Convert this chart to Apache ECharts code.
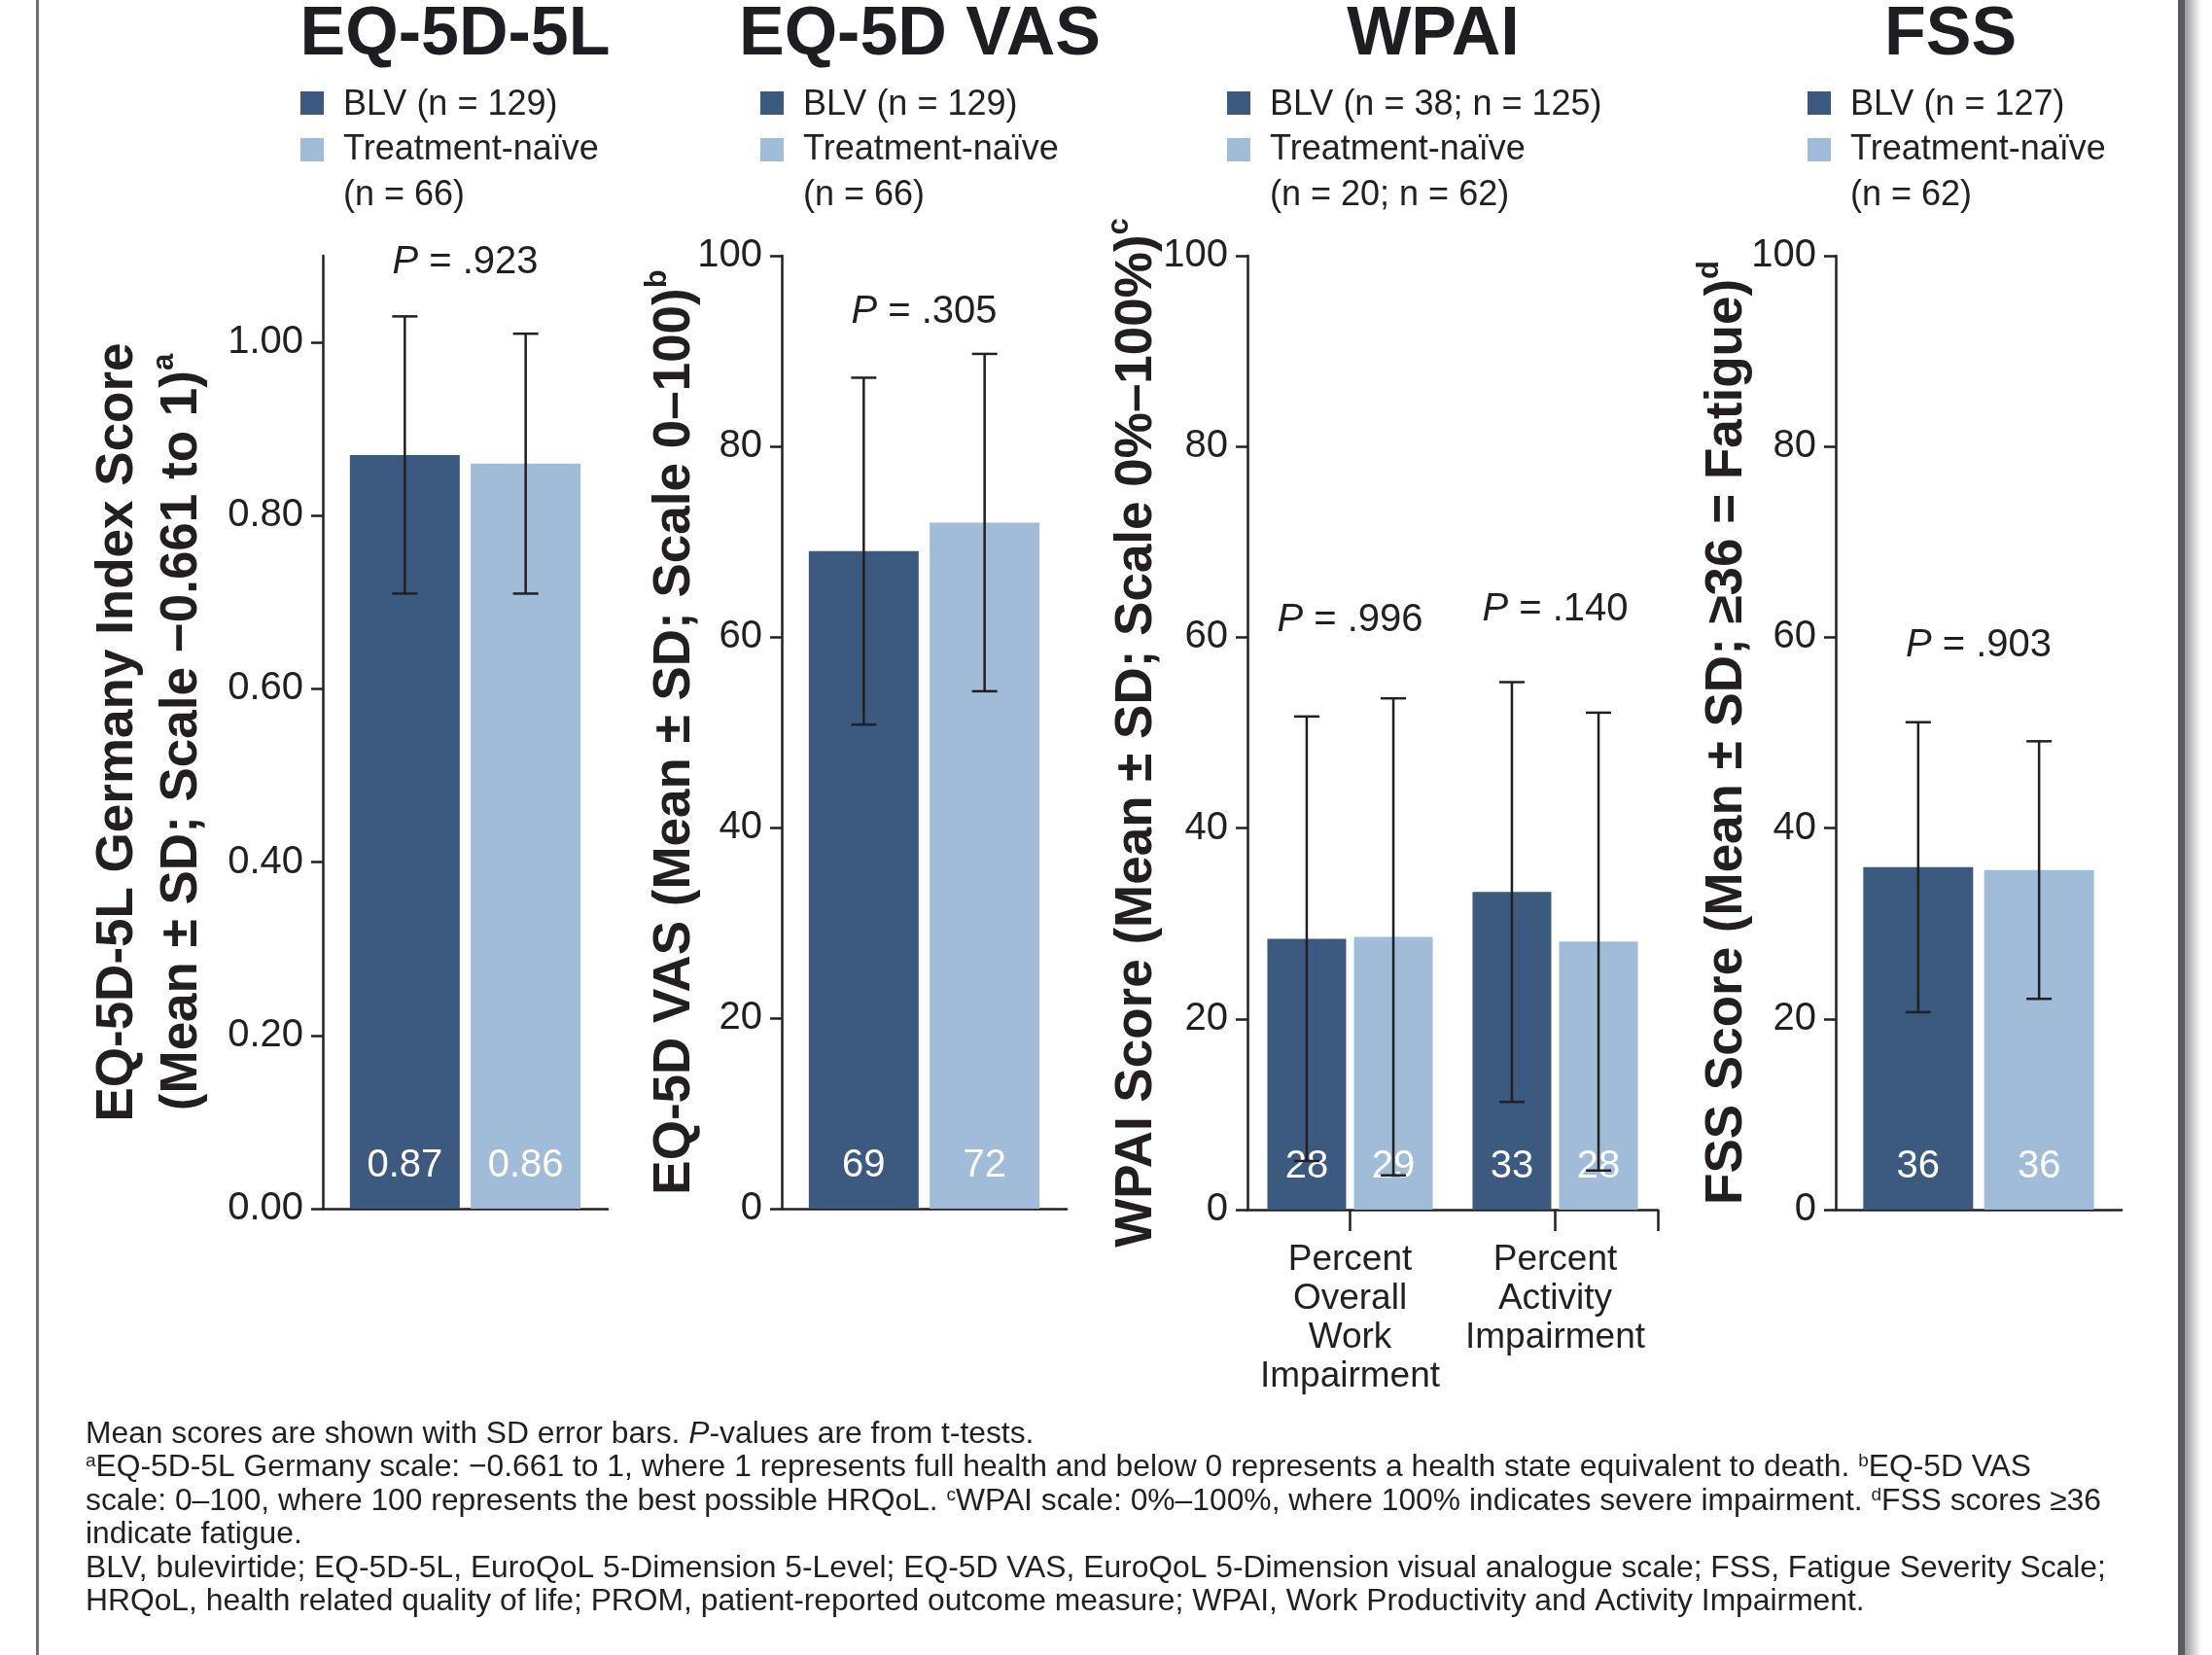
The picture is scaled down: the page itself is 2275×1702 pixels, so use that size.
<!DOCTYPE html>
<html>
<head>
<meta charset="utf-8">
<script src="https://cdn.jsdelivr.net/npm/echarts@6/dist/echarts.min.js"></script>
<style>
  html, body { margin: 0; padding: 0; background: #ffffff; }
  #chart { width: 2275px; height: 1702px; }
</style>
</head>
<body>
<div id="chart"></div>
<script>
// ---- data ----
const panelTitles = ['EQ-5D-5L', 'EQ-5D VAS', 'WPAI', 'FSS'];
const legendBlv = ['BLV (n = 129)', 'BLV (n = 129)', 'BLV (n = 38; n = 125)', 'BLV (n = 127)'];
const legendNaive = ['Treatment-naïve\n(n = 66)', 'Treatment-naïve\n(n = 66)', 'Treatment-naïve\n(n = 20; n = 62)', 'Treatment-naïve\n(n = 62)'];

const eq5dCategories = ['EQ-5D-5L'];
const vasCategories = ['EQ-5D VAS'];
const wpaiCategories = ['Percent\nOverall\nWork\nImpairment', 'Percent\nActivity\nImpairment'];
const fssCategories = ['FSS'];

const eq5dBlvMean = [0.87];
const eq5dBlvSd = [0.16];
const eq5dNaiveMean = [0.86];
const eq5dNaiveSd = [0.15];

const vasBlvMean = [69];
const vasBlvSd = [18.2];
const vasNaiveMean = [72];
const vasNaiveSd = [17.7];

const wpaiBlvMean = [28.4, 33.3];
const wpaiBlvSd = [23.3, 22.0];
const wpaiNaiveMean = [28.6, 28.1];
const wpaiNaiveSd = [25.0, 24.0];

const fssBlvMean = [35.9];
const fssBlvSd = [15.2];
const fssNaiveMean = [35.6];
const fssNaiveSd = [13.5];

const eq5dPValues = ['.923'];
const vasPValues = ['.305'];
const wpaiPValues = ['.996', '.140'];
const fssPValues = ['.903'];
// height (in axis units) at which each P-value is written
const eq5dPY = [1.092];
const vasPY = [94.1];
const wpaiPY = [61.8, 62.9];
const fssPY = [59.1];

const eq5dTicks = [0, 0.2, 0.4, 0.6, 0.8, 1.0];
const scoreTicks = [0, 20, 40, 60, 80, 100];

const axisNames = [
  'EQ-5D-5L Germany Index Score\n(Mean ± SD; Scale −0.661 to 1){sup|a}',
  'EQ-5D VAS (Mean ± SD; Scale 0–100){sup|b}',
  'WPAI Score (Mean ± SD; Scale 0%–100%){sup|c}',
  'FSS Score (Mean ± SD; ≥36 = Fatigue){sup|d}'
];

const footnotes = [
  'Mean scores are shown with SD error bars. {it|P}-values are from t-tests.',
  '{sup|a}EQ-5D-5L Germany scale: −0.661 to 1, where 1 represents full health and below 0 represents a health state equivalent to death. {sup|b}EQ-5D VAS',
  'scale: 0–100, where 100 represents the best possible HRQoL. {sup|c}WPAI scale: 0%–100%, where 100% indicates severe impairment. {sup|d}FSS scores ≥36',
  'indicate fatigue.',
  'BLV, bulevirtide; EQ-5D-5L, EuroQoL 5-Dimension 5-Level; EQ-5D VAS, EuroQoL 5-Dimension visual analogue scale; FSS, Fatigue Severity Scale;',
  'HRQoL, health related quality of life; PROM, patient-reported outcome measure; WPAI, Work Productivity and Activity Impairment.'
];

// ---- styling ----
const INK = '#231f20';
const BLV_COLOR = '#3c5a7f';
const NAIVE_COLOR = '#a0bcd9';
const FONT = '"Liberation Sans", Arial, Helvetica, sans-serif';

const panels = [
  { grid: { left: 332, top: 263, width: 293, height: 980 }, cats: eq5dCategories,
    blv: eq5dBlvMean, blvSd: eq5dBlvSd, naive: eq5dNaiveMean, naiveSd: eq5dNaiveSd,
    pv: eq5dPValues, pY: eq5dPY, max: 1.1, interval: 0.2, ticks: eq5dTicks, decimals: 2,
    barWidth: 113, nameGap: 112 },
  { grid: { left: 804, top: 263, width: 293, height: 980 }, cats: vasCategories,
    blv: vasBlvMean, blvSd: vasBlvSd, naive: vasNaiveMean, naiveSd: vasNaiveSd,
    pv: vasPValues, pY: vasPY, max: 100, interval: 20, ticks: scoreTicks, decimals: 0,
    barWidth: 113, nameGap: 77 },
  { grid: { left: 1283, top: 263, width: 422, height: 981 }, cats: wpaiCategories,
    blv: wpaiBlvMean, blvSd: wpaiBlvSd, naive: wpaiNaiveMean, naiveSd: wpaiNaiveSd,
    pv: wpaiPValues, pY: wpaiPY, max: 100, interval: 20, ticks: scoreTicks, decimals: 0,
    barWidth: 81, nameGap: 81, showCats: true },
  { grid: { left: 1888, top: 263, width: 294, height: 981 }, cats: fssCategories,
    blv: fssBlvMean, blvSd: fssBlvSd, naive: fssNaiveMean, naiveSd: fssNaiveSd,
    pv: fssPValues, pY: fssPY, max: 100, interval: 20, ticks: scoreTicks, decimals: 0,
    barWidth: 113, nameGap: 79 }
];
const BAR_GAP = 0.1;

function errorBarRenderer(offset) {
  return function (params, api) {
    const cat = api.value(0), m = api.value(1), s = api.value(2);
    const top = api.coord([cat, m + s]);
    const bot = api.coord([cat, m - s]);
    const x = top[0] + offset;
    const half = 13;
    const st = { stroke: INK, lineWidth: 2.5 };
    return {
      type: 'group',
      children: [
        { type: 'line', shape: { x1: x, y1: top[1], x2: x, y2: bot[1] }, style: st },
        { type: 'line', shape: { x1: x - half, y1: top[1], x2: x + half, y2: top[1] }, style: st },
        { type: 'line', shape: { x1: x - half, y1: bot[1], x2: x + half, y2: bot[1] }, style: st }
      ]
    };
  };
}

const grids = [], xAxes = [], yAxes = [], series = [];
const axisLineStyle = { color: INK, width: 2.5 };

panels.forEach((p, i) => {
  grids.push(Object.assign({ outerBoundsMode: 'none', containLabel: false }, p.grid));
  xAxes.push({
    type: 'category', gridIndex: i, data: p.cats, position: 'bottom',
    axisLine: { show: true, onZero: false, lineStyle: axisLineStyle },
    axisTick: { show: !!p.showCats, alignWithLabel: true, length: 22, interval: 0, lineStyle: axisLineStyle },
    axisLabel: { show: !!p.showCats, interval: 0, fontFamily: FONT, fontSize: 37, lineHeight: 40,
                 color: INK, margin: 32 },
    splitLine: { show: false }
  });
  yAxes.push({
    type: 'value', gridIndex: i, min: 0, max: p.max, interval: p.interval,
    axisLine: { show: true, lineStyle: axisLineStyle },
    axisTick: { show: true, length: 12, lineStyle: axisLineStyle, customValues: p.ticks },
    axisLabel: { fontFamily: FONT, fontSize: 40, color: INK, margin: 20, customValues: p.ticks,
                 formatter: v => Number(v).toFixed(p.decimals) },
    splitLine: { show: false },
    name: axisNames[i], nameLocation: 'middle', nameRotate: 90, nameGap: p.nameGap,
    nameMoveOverlap: false,
    nameTextStyle: {
      fontFamily: FONT, fontSize: 53, fontWeight: 'bold', color: INK, lineHeight: 66, align: 'center',
      rich: { sup: { fontFamily: FONT, fontSize: 31, fontWeight: 'bold', color: INK, verticalAlign: 'top' } }
    }
  });

  const valueLabel = {
    show: true, position: 'insideBottom', distance: 24, color: '#ffffff',
    fontFamily: FONT, fontSize: 40,
    formatter: d => p.decimals ? Number(d.value).toFixed(p.decimals) : String(Math.round(d.value))
  };
  series.push({
    name: legendBlv[i], type: 'bar', xAxisIndex: i, yAxisIndex: i, data: p.blv,
    barWidth: p.barWidth, barGap: (BAR_GAP * 100) + '%', itemStyle: { color: BLV_COLOR },
    label: valueLabel, silent: true, animation: false, z: 2
  });
  series.push({
    name: legendNaive[i], type: 'bar', xAxisIndex: i, yAxisIndex: i, data: p.naive,
    barWidth: p.barWidth, barGap: (BAR_GAP * 100) + '%', itemStyle: { color: NAIVE_COLOR },
    label: valueLabel, silent: true, animation: false, z: 2
  });
  const off = p.barWidth * (1 + BAR_GAP) / 2;
  series.push({
    type: 'custom', xAxisIndex: i, yAxisIndex: i, renderItem: errorBarRenderer(-off),
    data: p.blv.map((m, k) => [k, m, p.blvSd[k]]), encode: { x: 0, y: 1 },
    silent: true, animation: false, z: 5
  });
  series.push({
    type: 'custom', xAxisIndex: i, yAxisIndex: i, renderItem: errorBarRenderer(off),
    data: p.naive.map((m, k) => [k, m, p.naiveSd[k]]), encode: { x: 0, y: 1 },
    silent: true, animation: false, z: 5
  });
  series.push({
    type: 'scatter', xAxisIndex: i, yAxisIndex: i, symbolSize: 0, silent: true, animation: false,
    itemStyle: { opacity: 1 },
    data: p.pv.map((v, k) => [k, p.pY[k], v]),
    label: {
      show: true, position: 'inside', fontFamily: FONT, fontSize: 40, color: INK, opacity: 1,
      formatter: d => '{i|P} = ' + d.data[2],
      rich: { i: { fontFamily: FONT, fontSize: 40, fontStyle: 'italic', color: INK } }
    }
  });
});

// closing tick at the right end of the WPAI category axis
xAxes.push({
  type: 'value', gridIndex: 2, min: 0, max: 1, position: 'bottom',
  axisLine: { show: false }, axisLabel: { show: false }, splitLine: { show: false },
  axisTick: { show: true, length: 22, inside: false, customValues: [1], lineStyle: axisLineStyle }
});

// ---- titles, legends, footnotes, frame ----
const graphics = [];
const titleX = [468, 946, 1474, 2006];
panelTitles.forEach((t, i) => {
  graphics.push({
    type: 'text', x: titleX[i], y: 37, silent: true,
    style: { text: t, fontFamily: FONT, fontSize: 70, fontWeight: 'bold', fill: '#1e1e22',
             align: 'center', verticalAlign: 'middle' }
  });
});

const legendX = [309, 782, 1262, 1859];
legendX.forEach((lx, i) => {
  graphics.push({ type: 'rect', shape: { x: lx, y: 94, width: 24, height: 24 }, style: { fill: BLV_COLOR }, silent: true });
  graphics.push({ type: 'rect', shape: { x: lx, y: 142, width: 24, height: 24 }, style: { fill: NAIVE_COLOR }, silent: true });
  graphics.push({
    type: 'text', x: lx + 44, y: 108, silent: true,
    style: { text: legendBlv[i], fontFamily: FONT, fontSize: 36, fill: INK, align: 'left', verticalAlign: 'middle' }
  });
  graphics.push({
    type: 'text', x: lx + 44, y: 154 - 23.5, silent: true,
    style: { text: legendNaive[i], fontFamily: FONT, fontSize: 36, lineHeight: 47, fill: INK,
             align: 'left', verticalAlign: 'top' }
  });
});

const footY = [1475, 1509, 1544, 1578, 1613, 1647];
footnotes.forEach((line, i) => {
  graphics.push({
    type: 'text', x: 88, y: footY[i], silent: true,
    style: {
      text: line, fontFamily: FONT, fontSize: 31.8, fill: INK, align: 'left', verticalAlign: 'middle',
      rich: {
        sup: { fontFamily: FONT, fontSize: 19, fill: INK, verticalAlign: 'top' },
        it: { fontFamily: FONT, fontSize: 31.8, fontStyle: 'italic', fill: INK }
      }
    }
  });
});

// page frame
graphics.push({ type: 'rect', shape: { x: 37, y: 0, width: 3, height: 1702 }, style: { fill: '#6d6e72' }, silent: true });
graphics.push({ type: 'rect', shape: { x: 2240, y: 0, width: 7, height: 1702 }, style: { fill: '#58595d' }, silent: true });
graphics.push({
  type: 'rect', shape: { x: 2247, y: 0, width: 17, height: 1702 }, silent: true,
  style: { fill: new echarts.graphic.LinearGradient(0, 0, 1, 0, [
    { offset: 0, color: '#9a9b9e' }, { offset: 1, color: '#ffffff' }]) }
});

const chart = echarts.init(document.getElementById('chart'), null, { renderer: 'canvas', width: 2275, height: 1702 });
chart.setOption({
  animation: false,
  backgroundColor: '#ffffff',
  grid: grids,
  xAxis: xAxes,
  yAxis: yAxes,
  series: series,
  graphic: graphics
});
</script>
</body>
</html>
